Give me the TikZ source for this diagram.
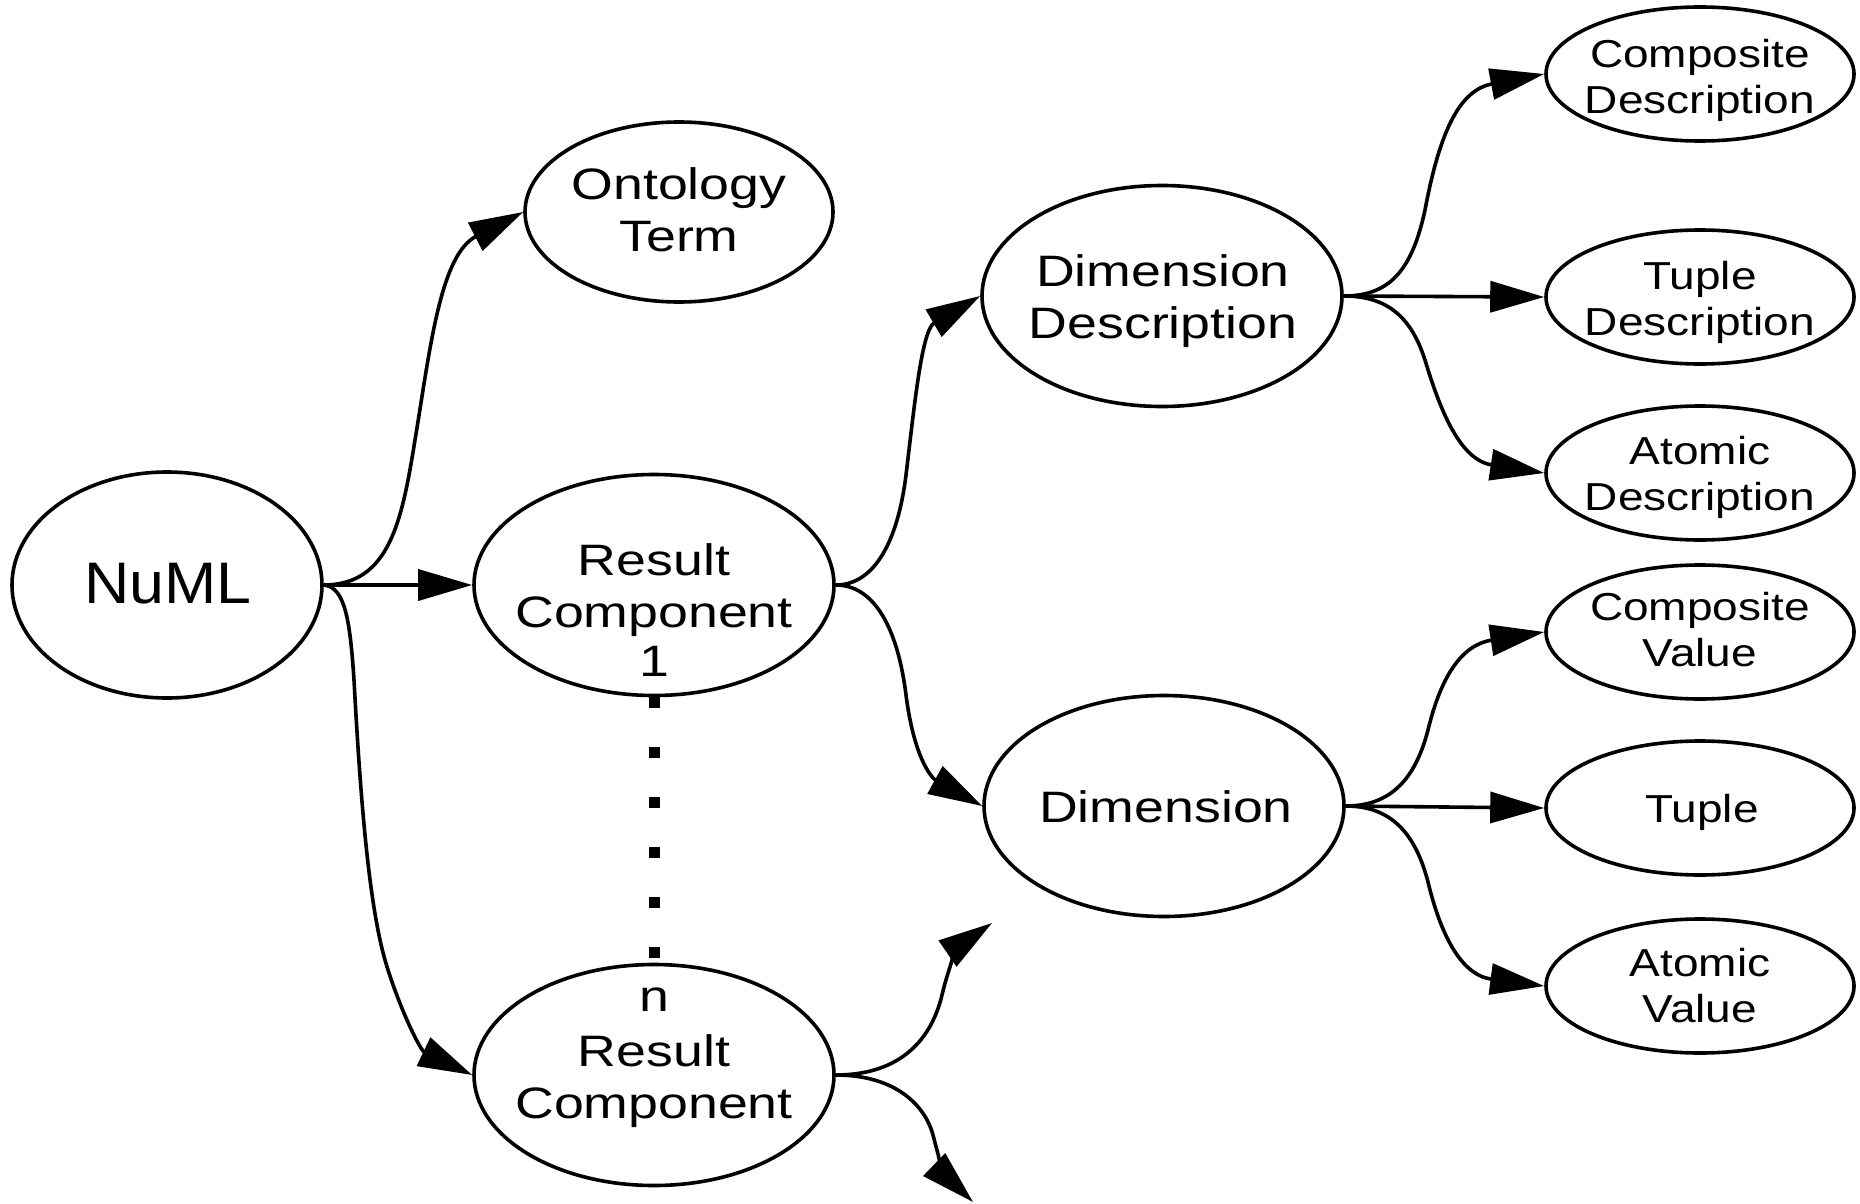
\documentclass[tikz,border=0pt]{standalone}
\usepackage{fontspec}
\setmainfont{Liberation Sans}
\usepackage{graphicx}
\usetikzlibrary{arrows.meta,shapes.geometric}

% Text helpers: a slightly widened sans face, in three sizes
\newcommand\bigword[1]{{\fontsize{58.6}{70}\selectfont\scalebox{1.07}[1]{#1}}}
\newcommand\midword[1]{{\fontsize{44}{52}\selectfont\scalebox{1.22}[1]{#1}}}
\newcommand\midlines[1]{{\fontsize{44}{52}\selectfont\scalebox{1.22}[1]{\begin{tabular}{@{}c@{}}#1\end{tabular}}}}
\newcommand\smallword[1]{{\fontsize{39}{46}\selectfont\scalebox{1.18}[1]{#1}}}
\newcommand\smalllines[1]{{\fontsize{39}{46}\selectfont\scalebox{1.18}[1]{\begin{tabular}{@{}c@{}}#1\end{tabular}}}}

\begin{document}
\begin{tikzpicture}[x=1pt,y=-1pt,
  oval/.style={ellipse, draw, line width=3.6pt, inner sep=0pt},
  bigoval/.style={oval, minimum width=360pt, minimum height=221pt},
  leaf/.style={oval, minimum width=308pt, minimum height=134pt},
  lbl/.style={inner sep=0pt},
  link/.style={line width=3.6pt, -{Triangle[length=54pt,width=31pt]}},
  dotline/.style={line width=11pt, dash pattern=on 11pt off 39pt}]
\useasboundingbox (0,0) rectangle (1860,1204);

% ellipses
\node[oval, minimum width=310pt, minimum height=226pt] (numl) at (167,585) {};
\node[oval, minimum width=308pt, minimum height=180pt] (onto) at (679,212) {};
\node[bigoval] (rc1) at (654,585) {};
\node[bigoval] (rcn) at (654,1075) {};
\node[bigoval] (dd) at (1162,296) {};
\node[bigoval] (dim) at (1164,806) {};
\node[leaf] (cd) at (1700,74) {};
\node[leaf] (td) at (1700,297) {};
\node[leaf] (ad) at (1700,473) {};
\node[leaf] (cv) at (1700,632) {};
\node[leaf] (tu) at (1700,808) {};
\node[leaf] (av) at (1700,986) {};

% labels
\node[lbl] (numl-t) at (168,584) {\bigword{NuML}};
\node[lbl] (onto-t) at (679,215.5) {\midlines{Ontology\\Term}};
\node[lbl] (rc1-t) at (654,591.5) {\midlines{Result\\Component}};
\node[lbl] (rc1-i) at (654,661) {\midword{1}};
\node[lbl] (rcn-t) at (654,1082) {\midlines{Result\\Component}};
\node[lbl] (rcn-i) at (654,1000) {\midword{n}};
\node[lbl] (dd-t) at (1163,302.5) {\midlines{Dimension\\Description}};
\node[lbl] (dim-t) at (1166,806.5) {\midword{Dimension}};
\node[lbl] (cd-t) at (1700,81) {\smalllines{Composite\\Description}};
\node[lbl] (td-t) at (1700,303) {\smalllines{Tuple\\Description}};
\node[lbl] (ad-t) at (1700,478) {\smalllines{Atomic\\Description}};
\node[lbl] (cv-t) at (1700,634) {\smalllines{Composite\\Value}};
\node[lbl] (tu-t) at (1702,812) {\smallword{Tuple}};
\node[lbl] (av-t) at (1700,990) {\smalllines{Atomic\\Value}};

% open ends of the last result component
\coordinate (more-up) at (992,923);
\coordinate (more-down) at (973,1202);

% connectors
\draw[link] (numl.east) .. controls (390,585) and (402,520) .. (415,440)
  .. controls (430,350) and (440,255) .. (onto.west);
\draw[link] (numl.east) -- (rc1.west);
\draw[link] (numl.east) .. controls (345,587) and (350,620) .. (354,680)
  .. controls (360,790) and (368,900) .. (385,960)
  .. controls (398,1005) and (420,1050) .. (rcn.west);

\draw[dotline] (rc1.south) -- (rcn.north);

\draw[link] (rc1.east) .. controls (875,585) and (898,540) .. (906,475)
  .. controls (915,400) and (922,330) .. (dd.west);
\draw[link] (rc1.east) .. controls (875,585) and (898,630) .. (906,695)
  .. controls (915,765) and (935,780) .. (dim.west);

\draw[link] (rcn.east) .. controls (895,1075) and (930,1045) .. (942,995)
  .. controls (948,968) and (960,945) .. (more-up);
\draw[link] (rcn.east) .. controls (895,1075) and (925,1105) .. (933,1135)
  .. controls (938,1155) and (945,1175) .. (more-down);

\draw[link] (dd.east) .. controls (1390,296) and (1412,270) .. (1425,210)
  .. controls (1440,130) and (1460,90) .. (cd.west);
\draw[link] (dd.east) -- (td.west);
\draw[link] (dd.east) .. controls (1390,296) and (1412,320) .. (1425,360)
  .. controls (1440,410) and (1460,460) .. (ad.west);

\draw[link] (dim.east) .. controls (1390,806) and (1415,780) .. (1428,730)
  .. controls (1440,680) and (1460,645) .. (cv.west);
\draw[link] (dim.east) -- (tu.west);
\draw[link] (dim.east) .. controls (1390,806) and (1415,832) .. (1428,882)
  .. controls (1440,932) and (1460,975) .. (av.west);
\end{tikzpicture}
\end{document}
